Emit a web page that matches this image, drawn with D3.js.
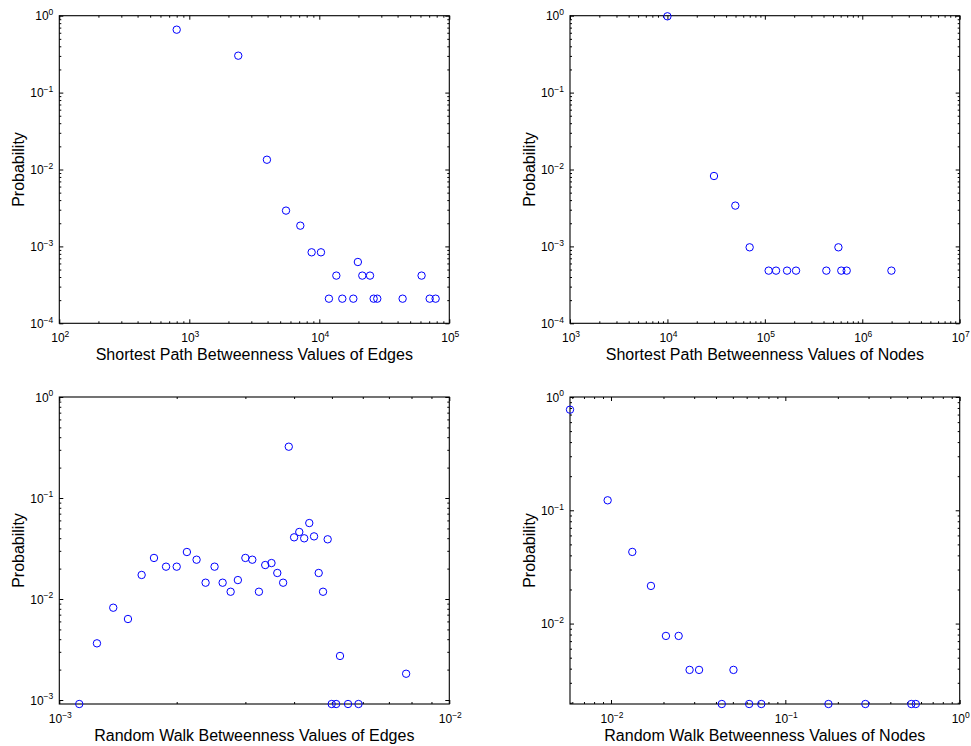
<html>
<head>
    <style>
        body { margin: 0; background: #fff; }
        text { font-family: "Liberation Sans", Arial, Helvetica, sans-serif; fill: #000; }
    </style>
    <script src="https://cdn.jsdelivr.net/npm/d3@7"></script>
</head>

<body>
    <svg id="container" width="971" height="746"></svg>
</body>
<script>
    // shortest path betweenness, edges
    let spEdgeX = [800, 2380, 3955, 5546, 7144, 8730, 10300, 11860, 13520, 15030, 18270, 19800,
                   21420, 24550, 26190, 27920, 43750, 61200, 70650, 78500]
    let spEdgeP = [0.658, 0.302, 0.0134, 0.00292, 0.00186, 0.000838, 0.000838, 0.000209, 0.000417,
                   0.000209, 0.000209, 0.000627, 0.000417, 0.000417, 0.000209, 0.000209, 0.000209,
                   0.000417, 0.000209, 0.000209]

    // shortest path betweenness, nodes
    let spNodeX = [10000, 30060, 49760, 69820, 109400, 130300, 169000, 209000, 427700, 569000,
                   609000, 692000, 1991000]
    let spNodeP = [0.982, 0.00823, 0.00339, 0.000973, 0.000484, 0.000484, 0.000484, 0.000484,
                   0.000484, 0.000973, 0.000484, 0.000484, 0.000484]

    // random walk betweenness, edges
    let rwEdgeX = [0.001125, 0.001249, 0.001375, 0.0015, 0.001626, 0.001749, 0.001878, 0.002,
                   0.002124, 0.002249, 0.002372, 0.002501, 0.002623, 0.00275, 0.00287, 0.003,
                   0.003125, 0.00325, 0.003373, 0.0035, 0.003622, 0.003749, 0.003876, 0.004,
                   0.004124, 0.004246, 0.004375, 0.0045, 0.004625, 0.004745, 0.004877, 0.004994,
                   0.005127, 0.005245, 0.0055, 0.00585, 0.00775]
    let rwEdgeP = [0.000913, 0.00364, 0.0082, 0.00634, 0.0173, 0.0255, 0.0209, 0.0209, 0.0292,
                   0.0245, 0.0145, 0.0209, 0.0145, 0.0118, 0.0154, 0.0255, 0.0245, 0.0118,
                   0.0217, 0.0227, 0.0181, 0.0145, 0.322, 0.0408, 0.0461, 0.0399, 0.0565,
                   0.0417, 0.0181, 0.0118, 0.039, 0.000913, 0.000913, 0.00273, 0.000913,
                   0.000913, 0.00182]

    // random walk betweenness, nodes
    let rwNodeX = [0.00582, 0.00957, 0.01325, 0.01695, 0.02066, 0.02444, 0.02824, 0.032, 0.0504,
                   0.0432, 0.062, 0.0728, 0.1767, 0.2877, 0.528, 0.56]
    let rwNodeP = [0.773, 0.1225, 0.0429, 0.0215, 0.00778, 0.00778, 0.0039, 0.0039, 0.0039,
                   0.00195, 0.00195, 0.00195, 0.00195, 0.00195, 0.00195, 0.00195]

    let xTitles = ["Shortest Path Betweenness Values of Edges", "Shortest Path Betweenness Values of Nodes",
                   "Random Walk Betweenness Values of Edges", "Random Walk Betweenness Values of Nodes"]
    let yTitle = "Probability"

    let svg = d3.select("#container")

    let panels = [
        {x: spEdgeX, y: spEdgeP, xDom: [1e2, 1e5], yDom: [1e-4, 1], left: 59.3, right: 449.3, top: 15.7, bottom: 323.3, title: xTitles[0]},
        {x: spNodeX, y: spNodeP, xDom: [1e3, 1e7], yDom: [1e-4, 1], left: 570, right: 959.7, top: 15.7, bottom: 323.3, title: xTitles[1]},
        {x: rwEdgeX, y: rwEdgeP, xDom: [1e-3, 1e-2], yDom: [0.000913, 1], left: 59.3, right: 449.3, top: 397, bottom: 704, title: xTitles[2]},
        {x: rwNodeX, y: rwNodeP, xDom: [0.00582, 1], yDom: [0.00195, 1], left: 570, right: 959.7, top: 397, bottom: 704, title: xTitles[3]}
    ]

    function logTicks(dom) {
        let major = [], minor = []
        let lo = Math.floor(Math.log10(dom[0])), hi = Math.ceil(Math.log10(dom[1]))
        for (let e = lo; e <= hi; e++) {
            for (let k = 1; k <= 9; k++) {
                let v = +(k * Math.pow(10, e)).toPrecision(6)
                if (v < dom[0] * 0.9999 || v > dom[1] * 1.0001) continue
                if (k == 1) major.push(v); else minor.push(v)
            }
        }
        return {major, minor}
    }

    function supLabel(sel) {
        sel.each(function(d) {
            let t = d3.select(this)
            let e = Math.round(Math.log10(d))
            t.text("10")
            t.append("tspan")
                .attr("dy", "-0.6em")
                .attr("font-size", "8.5px")
                .text(e < 0 ? "\u2212" + (-e) : e)
        })
    }

    function drawPanel(p) {
        let w = p.right - p.left, h = p.bottom - p.top
        let g = svg.append("g").attr("transform", `translate(${p.left},${p.top})`)

        let xScale = d3.scaleLog().domain(p.xDom).range([0, w])
        let yScale = d3.scaleLog().domain(p.yDom).range([h, 0])

        let xt = logTicks(p.xDom), yt = logTicks(p.yDom)

        // ticks on all four sides, pointing inward
        let sides = [
            {axis: d3.axisBottom(xScale), t: xt, tr: `translate(0,${h})`},
            {axis: d3.axisTop(xScale), t: xt, tr: "translate(0,0)"},
            {axis: d3.axisLeft(yScale), t: yt, tr: "translate(0,0)"},
            {axis: d3.axisRight(yScale), t: yt, tr: `translate(${w},0)`}
        ]
        for (let s of sides) {
            g.append("g").attr("transform", s.tr)
                .call(s.axis.tickValues(s.t.minor).tickSize(-2).tickFormat("").tickSizeOuter(0))
                .call(a => a.select(".domain").remove())
                .selectAll("line").attr("stroke", "#000")
            g.append("g").attr("transform", s.tr)
                .call(s.axis.tickValues(s.t.major).tickSize(-4).tickFormat("").tickSizeOuter(0))
                .call(a => a.select(".domain").remove())
                .selectAll("line").attr("stroke", "#000")
        }

        g.append("rect")
            .attr("width", w).attr("height", h)
            .attr("fill", "none").attr("stroke", "#000").attr("stroke-width", 1.1)

        // tick labels
        g.selectAll(".xl").data(xt.major).enter().append("text")
            .attr("x", d => xScale(d) + 1)
            .attr("y", h + 19)
            .attr("text-anchor", "middle")
            .attr("font-size", "12px")
            .call(supLabel)

        g.selectAll(".yl").data(yt.major).enter().append("text")
            .attr("x", -6)
            .attr("y", d => yScale(d) + 4.5)
            .attr("text-anchor", "end")
            .attr("font-size", "12px")
            .call(supLabel)

        // titles
        g.append("text")
            .attr("x", w / 2).attr("y", h + 37)
            .attr("text-anchor", "middle")
            .attr("font-size", "16px")
            .text(p.title)

        g.append("text")
            .attr("transform", `translate(-35,${h / 2}) rotate(-90)`)
            .attr("text-anchor", "middle")
            .attr("font-size", "16px")
            .text(yTitle)

        g.selectAll("circle")
            .data(p.x.map((v, i) => [v, p.y[i]]))
            .enter().append("circle")
            .attr("cx", d => xScale(d[0]))
            .attr("cy", d => yScale(d[1]))
            .attr("r", 3.7)
            .attr("fill", "none")
            .attr("stroke", "#0000ff")
            .attr("stroke-width", 1)
    }

    for (let p of panels) drawPanel(p)
</script>
</html>
